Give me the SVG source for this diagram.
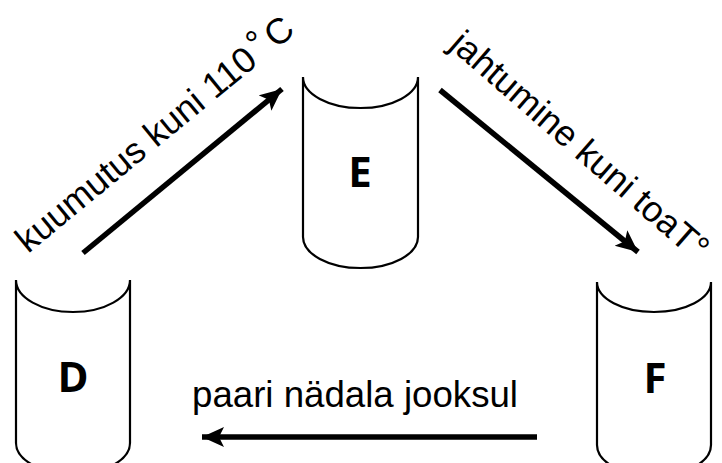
<svg xmlns="http://www.w3.org/2000/svg" width="722" height="463" viewBox="0 0 722 463">
  <style>
    .vessel { fill: none; stroke: #000; stroke-width: 2.2; stroke-linejoin: round; }
    .tag { font-family: "Open Sans", "DejaVu Sans", sans-serif; font-weight: bold; font-size: 42px; fill: #000; text-anchor: middle; }
    .lbl { font-family: "Liberation Sans", Arial, sans-serif; font-size: 36px; fill: #000; }
    .flow { stroke: #000; stroke-width: 5.5; fill: none; marker-end: url(#head); }
  </style>
  <defs>
    <marker id="head" markerUnits="userSpaceOnUse" markerWidth="24" markerHeight="22" refX="22" refY="10" orient="auto">
      <path d="M0,0 L22,10 L0,20 L5,10 Z" fill="#000"/>
    </marker>
  </defs>

  <rect width="722" height="463" fill="#fff"/>

  <!-- open-topped cylinders -->
  <g id="node-D">
    <path class="vessel" d="M16,280 V443 A57,31 0 0 0 130,443 V280 M16,280 A57,32 0 0 0 130,280"/>
    <text class="tag" x="73" y="392">D</text>
  </g>
  <g id="node-E">
    <path class="vessel" d="M303,77 V237 A57.5,31 0 0 0 418,237 V77 M303,77 A57.5,31 0 0 0 418,77"/>
    <text class="tag" x="360" y="187">E</text>
  </g>
  <g id="node-F">
    <path class="vessel" d="M597,282 V445 A57,31 0 0 0 711,445 V282 M597,282 A57,30 0 0 0 711,282"/>
    <text class="tag" x="655" y="393">F</text>
  </g>

  <!-- process arrows -->
  <g id="connectors">
    <line class="flow" x1="83" y1="253" x2="282" y2="89"/>
    <line class="flow" x1="440" y1="90" x2="638" y2="252"/>
    <line class="flow" x1="537" y1="437" x2="202" y2="437"/>
  </g>

  <!-- step labels -->
  <g id="labels">
    <text class="lbl" transform="translate(28,254) rotate(-39.5)">kuumutus kuni 110<tspan dx="4" dy="-6">°</tspan><tspan dx="4" dy="6">C</tspan></text>
    <text class="lbl" transform="translate(448,47) rotate(41)">jahtumine kuni toaT°</text>
    <text class="lbl" x="192" y="407" textLength="326" lengthAdjust="spacingAndGlyphs" font-size="38">paari nädala jooksul</text>
  </g>
</svg>
